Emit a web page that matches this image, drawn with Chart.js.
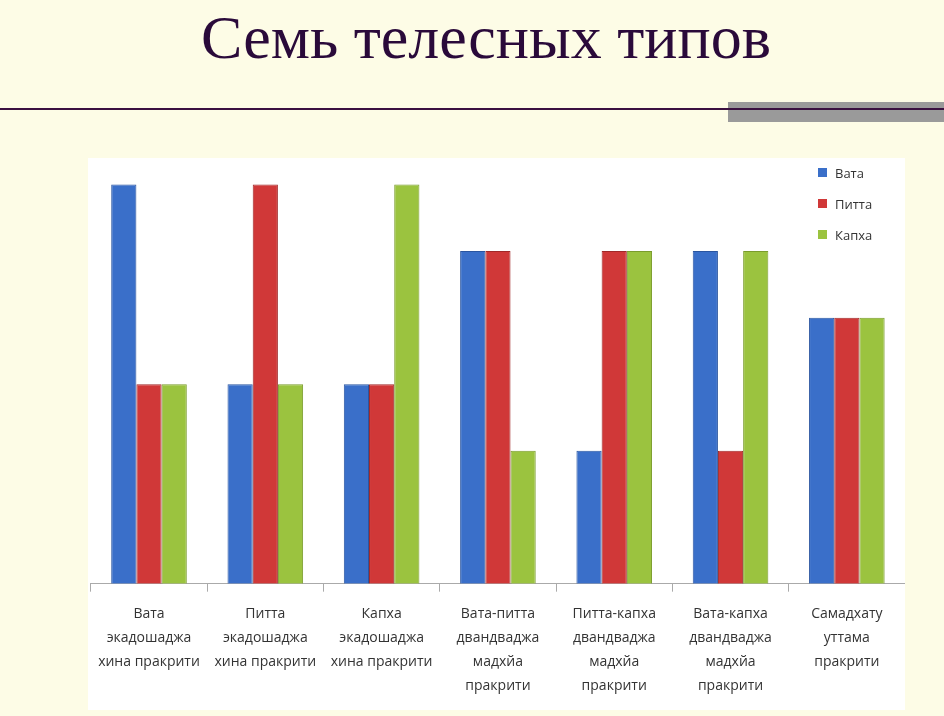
<!DOCTYPE html>
<html><head><meta charset="utf-8">
<script src="https://cdn.jsdelivr.net/npm/chart.js@4"></script>
<style>
body{margin:0;width:944px;height:716px;background:#fdfce6;position:relative;overflow:hidden;font-family:"Liberation Serif",serif}
#title{position:absolute;top:2px;left:0;width:972px;text-align:center;font-size:62px;color:#2a0a3a;font-family:"Liberation Serif",serif}
#rule{position:absolute;top:108px;left:0;width:944px;height:2px;background:#3a1040}
#grey{position:absolute;top:102px;left:728px;width:216px;height:20px;background:#9a9a9a}
#box{position:absolute;left:88px;top:158px;width:817px;height:552px;background:#fff}
#legend{position:absolute;left:818px;top:157px;font-family:"Open Sans",sans-serif;font-size:13px;color:#333}
#legend div{height:31px;display:flex;align-items:center}
#legend span{display:inline-block;width:9px;height:9px;margin-right:8px}
</style></head><body>
<div id="title">Семь телесных типов</div>
<div id="grey"></div><div id="rule"></div>
<div id="box"><canvas id="c" width="817" height="552"></canvas></div>
<div id="legend">
<div><span style="background:#3a6fc9"></span>Вата</div>
<div><span style="background:#d03838"></span>Питта</div>
<div><span style="background:#9bc33f"></span>Капха</div>
</div>
<script>
const categories=[["Вата","экадошаджа","хина пракрити"],["Питта","экадошаджа","хина пракрити"],["Капха","экадошаджа","хина пракрити"],["Вата-питта","двандваджа","мадхйа","пракрити"],["Питта-капха","двандваджа","мадхйа","пракрити"],["Вата-капха","двандваджа","мадхйа","пракрити"],["Самадхату","уттама","пракрити"]];
const vata=[6,3,3,5,2,5,4];
const pitta=[3,6,3,5,5,2,4];
const kapha=[3,3,6,2,5,5,4];
new Chart(document.getElementById('c'),{type:'bar',
data:{labels:categories,datasets:[
{label:'Вата',data:vata,backgroundColor:'#3a6fc9',borderColor:'#2a55a0',borderWidth:1},
{label:'Питта',data:pitta,backgroundColor:'#d03838',borderColor:'#a02828',borderWidth:1},
{label:'Капха',data:kapha,backgroundColor:'#9bc33f',borderColor:'#7a9c2c',borderWidth:1}]},
options:{responsive:false,animation:false,layout:{padding:{top:0,left:2,right:0,bottom:2}},
categoryPercentage:0.65,barPercentage:1,
plugins:{legend:{display:false},tooltip:{enabled:false}},
scales:{y:{display:false,min:0,max:6.4},
x:{grid:{offset:true,drawOnChartArea:false,color:'#aaa',tickLength:8},border:{color:'#aaa'},
ticks:{color:'#333',font:{family:'Open Sans',size:14,lineHeight:1.72},maxRotation:0,autoSkip:false,padding:10}}}}});
</script></body></html>
